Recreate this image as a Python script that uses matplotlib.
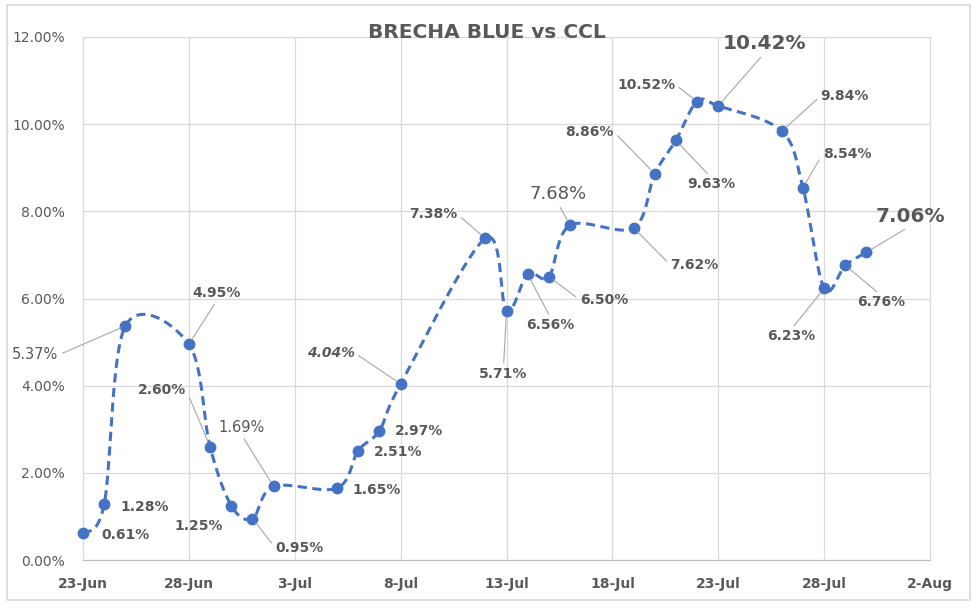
import matplotlib
matplotlib.use('Agg')
import matplotlib.pyplot as plt
import matplotlib.dates as mdates
from matplotlib.ticker import PercentFormatter, FuncFormatter
from matplotlib.patches import Rectangle
import numpy as np
import pandas as pd

# --- data ---
dates = ['2023-06-23', '2023-06-24', '2023-06-25', '2023-06-28', '2023-06-29',
         '2023-06-30', '2023-07-01', '2023-07-02', '2023-07-05', '2023-07-06',
         '2023-07-07', '2023-07-08', '2023-07-12', '2023-07-13', '2023-07-14',
         '2023-07-15', '2023-07-16', '2023-07-19', '2023-07-20', '2023-07-21',
         '2023-07-22', '2023-07-23', '2023-07-26', '2023-07-27', '2023-07-28',
         '2023-07-29', '2023-07-30']
brecha = [0.61, 1.28, 5.37, 4.95, 2.60, 1.25, 0.95, 1.69, 1.65, 2.51,
          2.97, 4.04, 7.38, 5.71, 6.56, 6.50, 7.68, 7.62, 8.86, 9.63,
          10.52, 10.42, 9.84, 8.54, 6.23, 6.76, 7.06]
x_ticks = pd.date_range('2023-06-23', '2023-08-02', freq='5D')
y_ticks = [0, 2, 4, 6, 8, 10, 12]
title = 'BRECHA BLUE vs CCL'

# label placement: offset in pixels (dx, dy) and where the leader leaves the text
label_offsets = [(42, -2, None), (41, -3, None), (-90, -29, (1, 0.5)), (28, 51, (0.5, 0)),
                 (-48, 57, (1, 0.5)), (-33, -20, None), (47, -29, (0, 0.5)), (-32, 59, (0.5, 0)),
                 (40, -2, None), (40, -1, None), (40, 0, None), (-70, 31, (1, 0.5)),
                 (-52, 24, (1, 0.5)), (-3, -63, (0.5, 1)), (23, -51, (0.5, 1)), (55, -23, (0, 0.5)),
                 (-12, 31, (0.5, 0)), (61, -37, (0, 0.5)), (-65, 42, (1, 0.5)), (35, -44, (0.5, 1)),
                 (-51, 17, (1, 0.5)), (46, 62, (0.5, 0)), (63, 35, (0, 0.5)), (44, 34, (0, 0.5)),
                 (-33, -48, (0.5, 1)), (36, -37, (0.5, 1)), (44, 36, (0.5, 0))]
# special label styles by index: (size, weight, style)
label_style = {2: (10.5, 'normal', 'normal'), 7: (10.5, 'normal', 'normal'),
               11: (10, 'bold', 'italic'), 16: (13, 'normal', 'normal'),
               21: (14.5, 'bold', 'normal'), 26: (14.5, 'bold', 'normal')}

BLUE = '#4472C4'
GRAY_TXT = '#595959'
GRID = '#d9d9d9'

xs = mdates.date2num(pd.to_datetime(dates))
ys = np.array(brecha)

# Excel-like smoothed line (cubic Bezier through the points)
pts = np.column_stack([xs, ys])
n = len(pts)
curve = []
t = np.linspace(0, 1, 30)[:, None]
for i in range(n - 1):
    p0, p3 = pts[i], pts[i + 1]
    prev = pts[i - 1] if i > 0 else pts[i]
    nxt = pts[i + 2] if i + 2 < n else pts[i + 1]
    c1 = p0 + (p3 - prev) / 6
    c2 = p3 - (nxt - p0) / 6
    seg = (1 - t) ** 3 * p0 + 3 * (1 - t) ** 2 * t * c1 + 3 * (1 - t) * t ** 2 * c2 + t ** 3 * p3
    curve.append(seg if i == 0 else seg[1:])
curve = np.vstack(curve)

fig = plt.figure(figsize=(9.8, 6.11), dpi=100)
ax = fig.add_axes([83 / 980, 51 / 611, (930 - 83) / 980, (560 - 37) / 611])

ax.xaxis_date()
ax.plot(curve[:, 0], curve[:, 1], color=BLUE, lw=2.2, dashes=(3, 1.8), zorder=3)
ax.plot(xs, ys, 'o', color=BLUE, markersize=7.5, zorder=4, clip_on=False)

ax.set_xlim(mdates.date2num(x_ticks[0]), mdates.date2num(x_ticks[-1]))
ax.set_ylim(0, 12)
ax.set_xticks(mdates.date2num(x_ticks))
ax.set_yticks(y_ticks)
ax.xaxis.set_major_formatter(FuncFormatter(
    lambda v, p: f"{mdates.num2date(v).day}-{mdates.num2date(v).strftime('%b')}"))
ax.yaxis.set_major_formatter(PercentFormatter(xmax=100, decimals=2))

ax.grid(True, color=GRID, lw=0.9)
ax.set_axisbelow(True)
for s in ['top', 'right', 'left']:
    ax.spines[s].set_color(GRID)
ax.spines['bottom'].set_color('#bfbfbf')
ax.tick_params(length=0, colors=GRAY_TXT, labelsize=10)
ax.tick_params(axis='y', pad=13)
ax.tick_params(axis='x', pad=12)
for lab in ax.get_xticklabels():
    lab.set_fontweight('bold')

# data labels
for i, (x, y) in enumerate(zip(xs, ys)):
    dx, dy, rel = label_offsets[i]
    size, weight, style = label_style.get(i, (10, 'bold', 'normal'))
    arrow = None
    if rel is not None:
        arrow = dict(arrowstyle='-', color='#a6a6a6', lw=0.8, relpos=rel,
                     shrinkA=1, shrinkB=4)
    ax.annotate(f"{brecha[i]:.2f}%", xy=(x, y), xytext=(dx, dy),
                textcoords='offset pixels', ha='center', va='center',
                fontsize=size, fontweight=weight, fontstyle=style,
                color=GRAY_TXT, arrowprops=arrow, zorder=5, annotation_clip=False)

fig.text(487 / 980, 1 - 33 / 611, title, ha='center', va='center',
         fontsize=14.5, fontweight='bold', color=GRAY_TXT)

# chart border
fig.patches.append(Rectangle((7 / 980, 11 / 611), 963 / 980, 595 / 611,
                             transform=fig.transFigure, fill=False,
                             edgecolor=GRID, lw=1.2))

fig.savefig('out.png', dpi=100)
plt.close(fig)
